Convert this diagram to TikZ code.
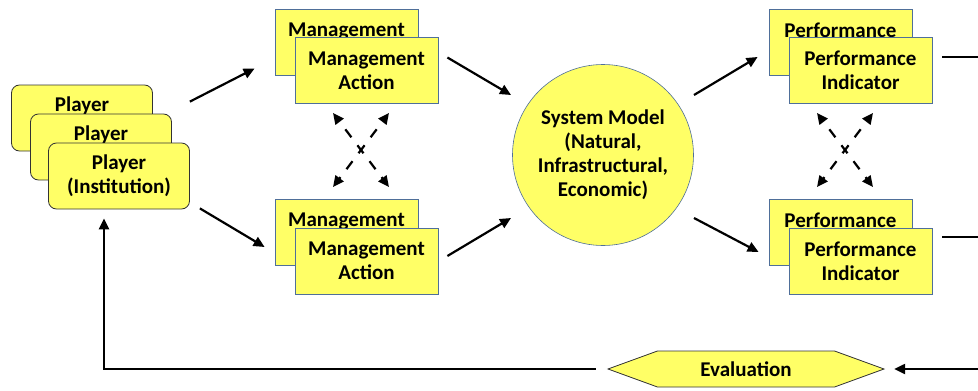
\documentclass[tikz,border=0pt]{standalone}
\usepackage{fontspec}
\setmainfont{Carlito}
\definecolor{boxyellow}{HTML}{FFFF66}
\definecolor{boxblue}{HTML}{4F6F99}
\usetikzlibrary{arrows.meta, shapes.symbols, positioning}

\tikzset{
   mgmt/.style={draw=boxblue, line width=0.8pt, fill=boxyellow, minimum width=143pt,
      minimum height=66pt, inner sep=0pt, align=center, font=\bfseries\fontsize{21}{24}\selectfont},
   player/.style={mgmt, draw=black!80, rounded corners=8pt, minimum width=141pt},
   arr/.style={-{Triangle[length=11pt,width=10pt]}, line width=2.2pt},
   dasharr/.style={{Triangle[length=11pt,width=10pt]}-{Triangle[length=11pt,width=10pt]},
      line width=2.2pt, dash pattern=on 10pt off 10pt, dash phase=10pt}
}

\begin{document}
\begin{tikzpicture}[x=1pt, y=-1pt]
   \useasboundingbox (0,0) rectangle (978,391);

   % stacked players
   \node[player] (pl1) at (82,118) {Player\\(Institution)};
   \node[player] (pl2) at (101,147) {Player\\(Institution)};
   \node[player] (pl3) at (119,176) {Player\\(Institution)};

   % management actions
   \node[mgmt] (ma1b) at (346.5,42) {Management\\Action};
   \node[mgmt] (ma1) at (366.5,70.5) {Management\\Action};
   \node[mgmt] (ma2b) at (346.5,232) {Management\\Action};
   \node[mgmt] (ma2) at (366.5,261) {Management\\Action};

   % performance indicators
   \node[mgmt] (pa1b) at (840.5,42) {Performance\\Indicator};
   \node[mgmt] (pa1) at (860.5,70.5) {Performance\\Indicator};
   \node[mgmt] (pa2b) at (840.5,232) {Performance\\Indicator};
   \node[mgmt] (pa2) at (860.5,261) {Performance\\Indicator};

   \node[circle, draw=boxblue, line width=0.6pt, fill=boxyellow, minimum size=181pt,
      inner sep=0pt, align=center, font=\bfseries\fontsize{21}{24}\selectfont]
      (sm) at (603,155) {System Model\\(Natural,\\Infrastructural,\\Economic)};

   \node[signal, signal to=west and east, signal pointer angle=40, draw=black!80,
      line width=0.8pt, fill=boxyellow, minimum width=276pt, minimum height=36pt,
      inner sep=0pt, font=\bfseries\fontsize{21}{24}\selectfont]
      (ev) at (746,369) {Evaluation};

   \coordinate (mx) at (361,150);
   \coordinate (px) at (845,150);
   \coordinate (edge1) at (985,57);
   \coordinate (edge2) at (985,237);
   \coordinate (edge3) at (985,369);

   \draw[arr] ([shift={(0,-41)}]pl3.north east) -- ([shift={(-40,-2)}]ma1.west);
   \draw[arr] ([shift={(10,-1)}]pl3.south east) -- ([shift={(-30,-14)}]ma2.west);
   \draw[arr] ([shift={(9,-13)}]ma1.east) -- ([shift={(-92,-60)}]sm.center);
   \draw[arr] ([shift={(9,-5)}]ma2.east) -- ([shift={(-92,63)}]sm.center);
   \draw[arr] ([shift={(91,-60)}]sm.center) -- ([shift={(-31,-13.5)}]pa1.west);
   \draw[arr] ([shift={(91,63)}]sm.center) -- ([shift={(-30,-9)}]pa2.west);

   \foreach \c in {mx,px}{
      \draw[dasharr] ([shift={(-28,-37)}]\c) -- ([shift={(28,37)}]\c);
      \draw[dasharr] ([shift={(28,-37)}]\c) -- ([shift={(-28,37)}]\c);
   }

   % feedback loop
   \draw[line width=2.2pt] ([shift={(10,-13.5)}]pa1.east) -- (edge1);
   \draw[line width=2.2pt] ([shift={(10,-24)}]pa2.east) -- (edge2);
   \draw[arr] (edge3) -- ([shift={(9,0)}]ev.east);
   \draw[arr] ([shift={(-11,0)}]ev.west) -| ([shift={(-15,9)}]pl3.south);
\end{tikzpicture}
\end{document}
